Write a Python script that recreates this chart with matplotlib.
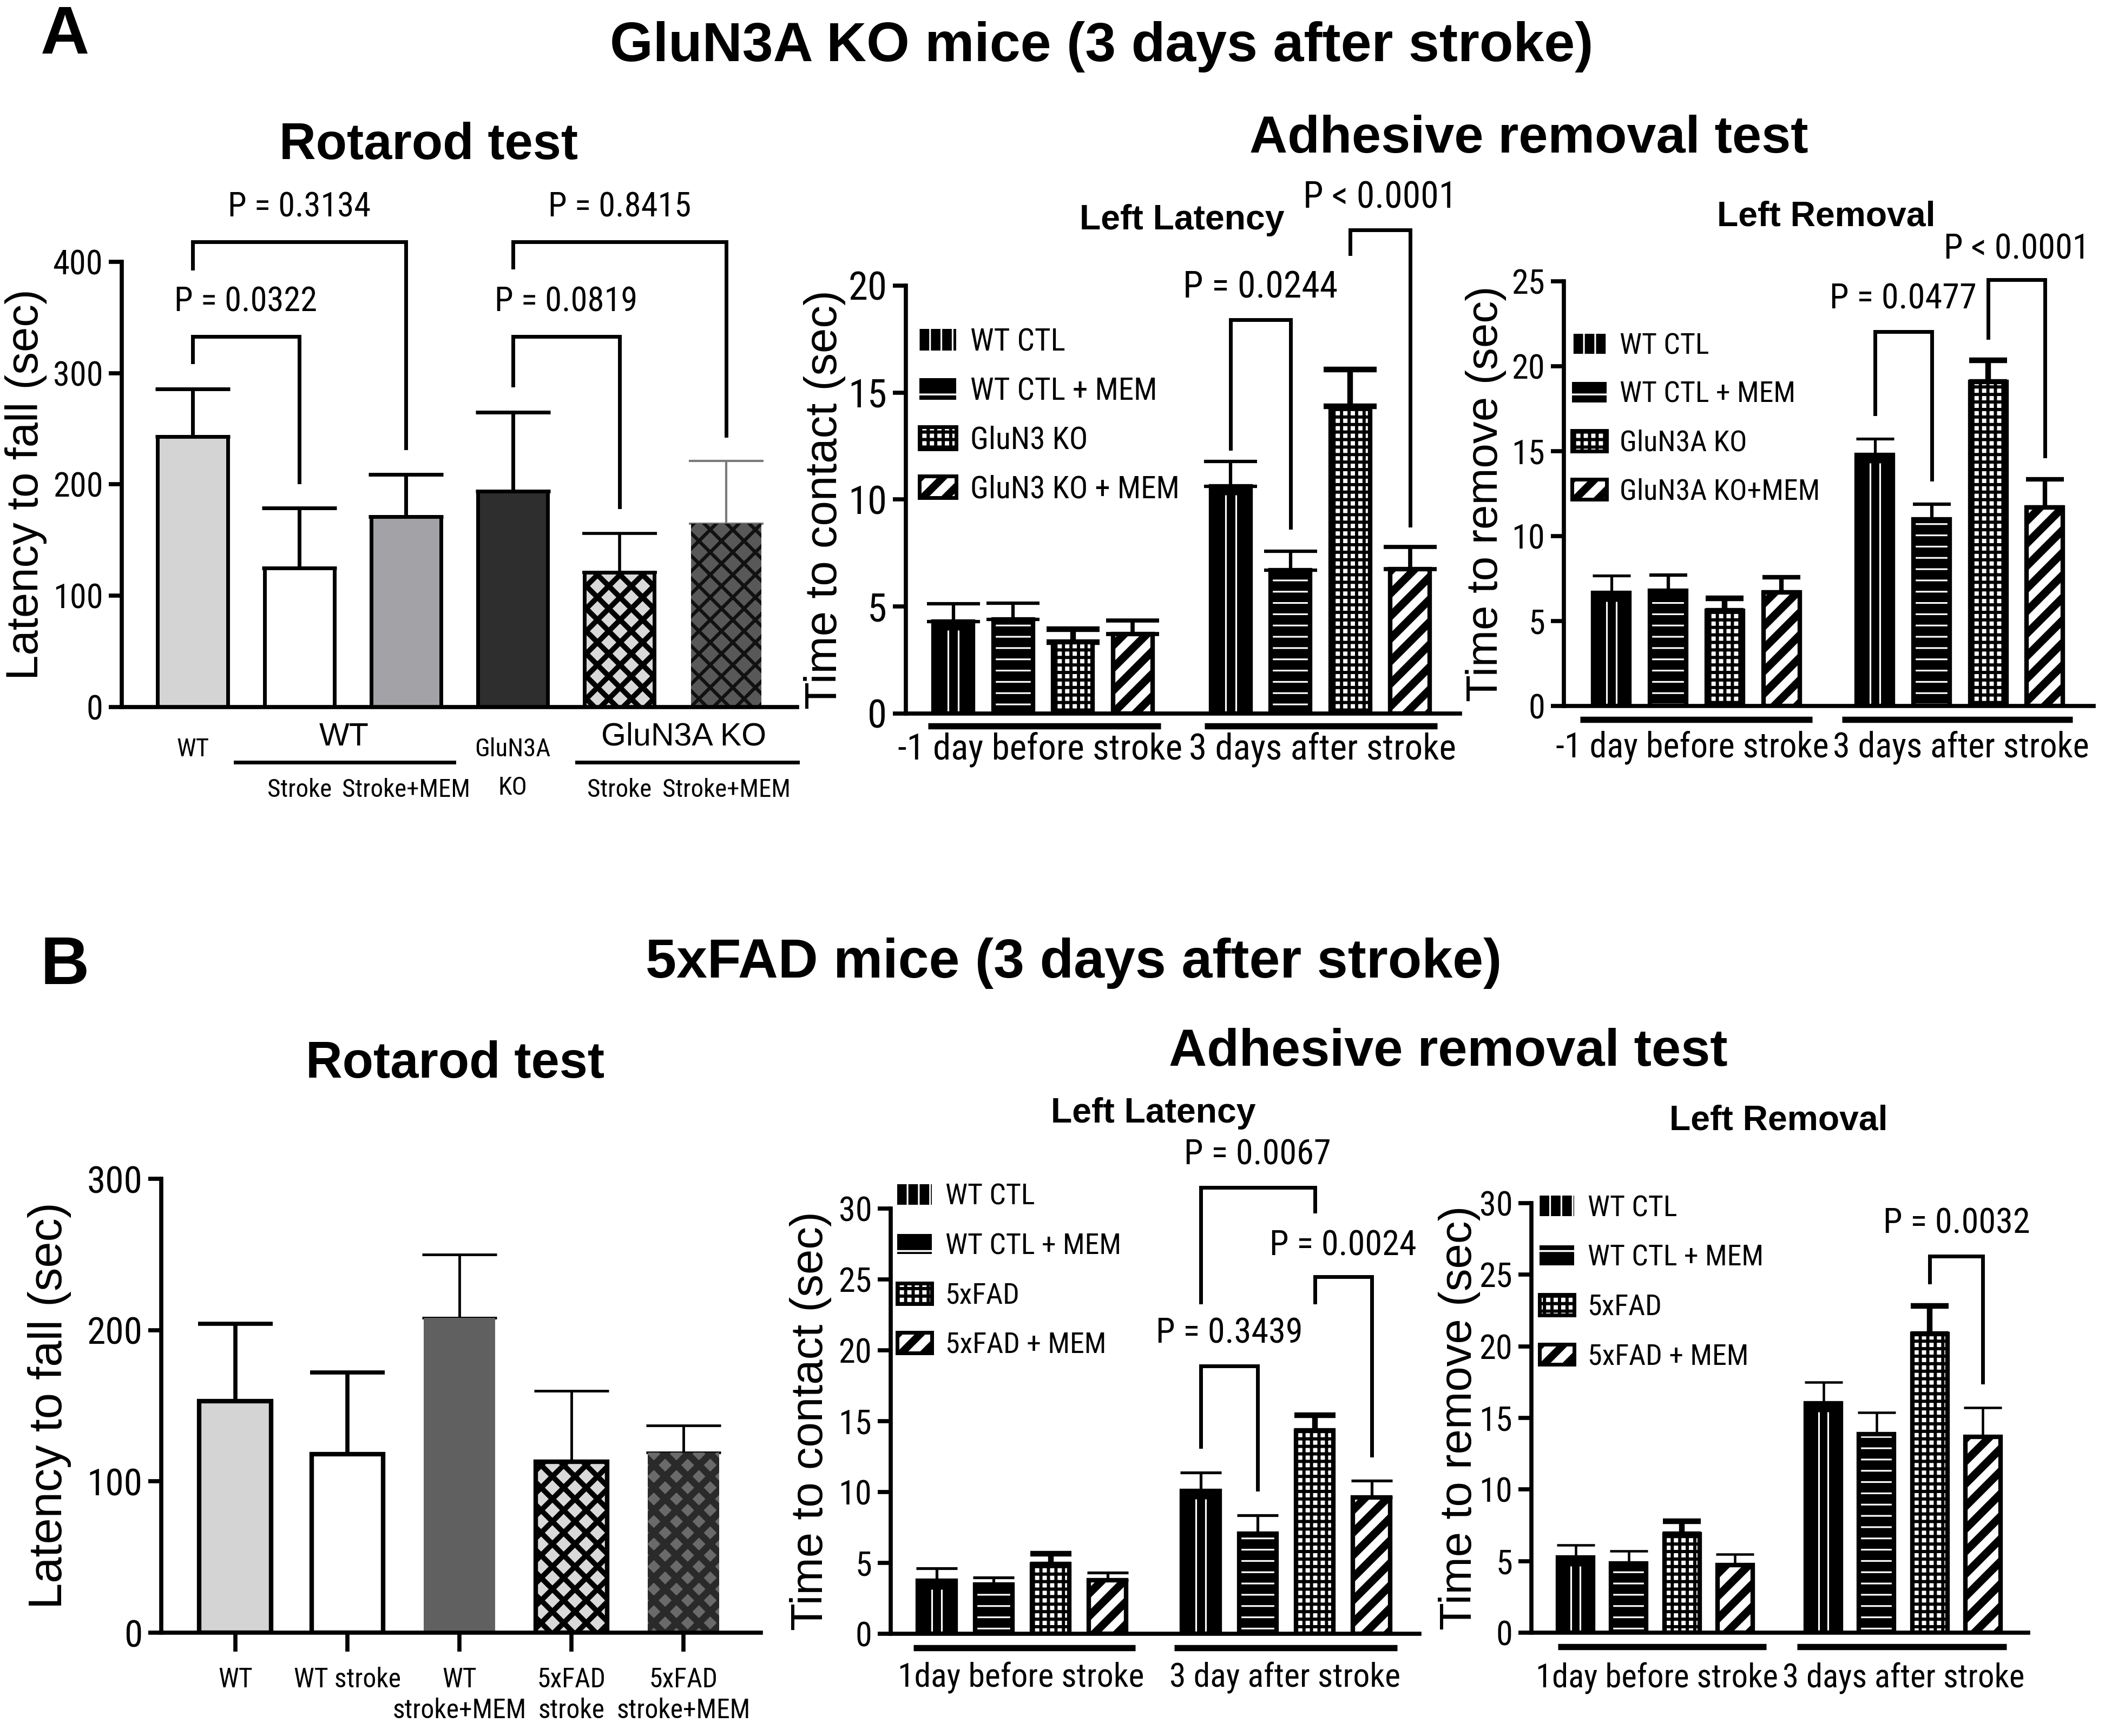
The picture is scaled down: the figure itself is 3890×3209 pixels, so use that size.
import matplotlib
matplotlib.use('Agg')
import matplotlib.pyplot as plt
import numpy as np
from matplotlib.patches import Patch
from matplotlib import font_manager as fm

# narrow font for numbers / small labels (Arial Narrow look); fall back to Liberation Sans
_names = sorted({f.name for f in fm.fontManager.ttflist})
_pref = ['Liberation Sans Narrow', 'Arial Narrow', 'Roboto Condensed', 'Noto Sans Condensed',
         'Open Sans Condensed', 'DejaVu Sans Condensed']
_narrow = next((n for n in _pref if n in _names), None)
if _narrow is None:
    _narrow = next((n for n in _names if ('Narrow' in n or 'Condensed' in n) and 'Sans' in n
                    and 'Mono' not in n and 'Semi' not in n and 'Extra' not in n), None)
if _narrow:
    NARROW = [_narrow, 'DejaVu Sans']
    NS = 1.0
else:
    NARROW = ['Liberation Sans', 'DejaVu Sans']
    NS = 0.86
WIDE = ['Liberation Sans', 'DejaVu Sans']
plt.rcParams['font.family'] = NARROW
plt.rcParams['axes.linewidth'] = 2.2

# ---------------- data ----------------
# A - GluN3A KO, rotarod
rotA_mean = [243, 125, 171, 194, 121, 165]
rotA_err = [43, 54, 38, 71, 35, 56]
# A - adhesive removal, left latency (-1 day, then 3 days)
latA_mean = [4.29, 4.39, 3.33, 3.71, 10.62, 6.69, 14.35, 6.75]
latA_err = [0.84, 0.77, 0.62, 0.64, 1.16, 0.89, 1.72, 1.03]
# A - adhesive removal, left removal
remA_mean = [6.65, 6.77, 5.60, 6.70, 14.79, 10.99, 19.08, 11.70]
remA_err = [1.03, 0.93, 0.74, 0.88, 0.93, 0.88, 1.27, 1.63]
# B - 5xFAD, rotarod
rotB_labels = ['WT', 'WT stroke', 'WT\nstroke+MEM', '5xFAD\nstroke', '5xFAD\nstroke+MEM']
rotB_mean = [153, 118, 208, 113, 119]
rotB_err = [51, 54, 42, 47, 18]
# B - left latency
latB_mean = [3.73, 3.47, 4.87, 3.77, 10.09, 7.07, 14.31, 9.61]
latB_err = [0.88, 0.48, 0.79, 0.55, 1.28, 1.27, 1.12, 1.19]
# B - left removal
remB_mean = [5.24, 4.83, 6.87, 4.72, 16.03, 13.86, 20.86, 13.69]
remB_err = [0.87, 0.87, 0.93, 0.76, 1.45, 1.52, 1.95, 2.01]

legA_lat = ['WT CTL', 'WT CTL + MEM', 'GluN3 KO', 'GluN3 KO + MEM']
legA_rem = ['WT CTL', 'WT CTL + MEM', 'GluN3A KO', 'GluN3A KO+MEM']
legB = ['WT CTL', 'WT CTL + MEM', '5xFAD', '5xFAD + MEM']
daysA = ['-1 day before stroke', '3 days after stroke']
daysB_lat = ['1day before stroke', '3 day after stroke']
daysB_rem = ['1day before stroke', '3 days after stroke']

# brackets: (bar i, bar j, top, left end, right end, text, text y)
brA_rot = [(0, 2, 418, 394, 233, 'P = 0.3134', 449),
           (0, 1, 333, 310, 202, 'P = 0.0322', 364),
           (3, 5, 418, 395, 244, 'P = 0.8415', 449),
           (3, 4, 333, 289, 180, 'P = 0.0819', 364)]
brA_lat = [(4, 5, 18.4, 12.4, 8.7, 'P = 0.0244', 19.9),
           (6, 7, 22.6, 21.5, 8.8, 'P < 0.0001', 24.1)]
brA_rem = [(4, 5, 22.05, 17.2, 13.35, 'P = 0.0477', 23.95),
           (6, 7, 25.1, 21.7, 14.7, 'P < 0.0001', 26.9)]
brB_lat = [(4, 6, 31.5, 23.4, 29.8, 'P = 0.0067', 33.8),
           (6, 7, 25.2, 23.4, 12.6, 'P = 0.0024', 27.4),
           (4, 5, 18.9, 13.2, 10.2, 'P = 0.3439', 21.2)]
brB_rem = [(6, 7, 26.3, 24.5, 17.5, 'P = 0.0032', 28.6)]

# ---------------- styles ----------------
STY = {
    'lgray': dict(face='#d4d4d4', edge='black'),
    'white': dict(face='white', edge='black'),
    'gray': dict(face='#a2a2a7', edge='black'),
    'dark': dict(face='#2e2e2e', edge='black'),
    'midgray': dict(face='#606060', edge=None),
    'lattice': dict(face='#d9d9d9', hatch='xx', hc='black', hlw=2.8, edge='black'),
    'lat_dark': dict(face='#585858', hatch='xx', hc='#111111', hlw=1.8, edge=None),
    'lat_dark2': dict(face='#6a6a6a', hatch='xx', hc='#2a2a2a', hlw=3.6, edge=None),
    'vert': dict(face='black', edge='black', vlines=True),
    'horiz': dict(face='black', hatch='--', hc='white', hlw=0.9, edge='black'),
    'check': dict(face='white', hatch='+++', hc='black', hlw=1.7, edge='black'),
    'diag': dict(face='white', hatch='//', hc='black', hlw=4.2, edge='black'),
}
ADH = ['vert', 'horiz', 'check', 'diag'] * 2


def set_hlw(p, lw):
    if hasattr(p, 'set_hatch_linewidth'):
        p.set_hatch_linewidth(lw)


def draw_bars(ax, x, means, errs, styles, width, ymax, elw, ecol, cap, edge_lw=2.4):
    for xi, m, e, s, lw, ec in zip(x, means, errs, styles, elw, ecol):
        st = STY[s]
        h = st.get('hatch')
        with plt.rc_context({'hatch.linewidth': st.get('hlw', 1.0)}):
            bc = ax.bar(xi, m, width, color=st['face'],
                        edgecolor=st.get('hc', 'none') if h else 'none',
                        linewidth=0, hatch=h, zorder=2)
        for p in bc:
            set_hlw(p, st.get('hlw', 1.0))
        if st['edge']:
            ax.bar(xi, m, width, fill=False, edgecolor=st['edge'], linewidth=edge_lw, zorder=3)
        if st.get('vlines'):
            off = width * 0.13
            ax.vlines([xi - off, xi + off], 0, m - 0.02 * ymax, color='white', lw=0.9, zorder=2.5)
        ax.errorbar(xi, m, yerr=[[0], [e]], fmt='none', ecolor=ec, elinewidth=lw,
                    capsize=cap, capthick=lw, zorder=1)


def brackets(ax, x, items, fs, lw=2.0):
    for i, j, top, yl, yr, txt, ty in items:
        ax.plot([x[i], x[i], x[j], x[j]], [yl, top, top, yr], color='black',
                lw=lw, clip_on=False, solid_joinstyle='miter', zorder=4)
        ax.text((x[i] + x[j]) / 2, ty, txt, ha='center', va='center', fontsize=fs * NS,
                family=NARROW, clip_on=False)


def style_axes(ax, ymax, step, ytick_fs, ylabel, ylab_x, ylab_fs=24):
    ax.set_ylim(0, ymax)
    ax.set_yticks(np.arange(0, ymax + step / 2, step))
    ax.spines['top'].set_visible(False)
    ax.spines['right'].set_visible(False)
    ax.tick_params(axis='y', length=7, width=2.2, labelsize=ytick_fs * NS, pad=3)
    ax.tick_params(axis='x', length=0)
    ax.set_xticks([])
    ax.set_ylabel(ylabel, fontsize=ylab_fs, family=WIDE, va='center')
    ax.yaxis.set_label_coords(ylab_x, 0.5)


def group_lines(ax, spans, labels, centers, y_line, y_txt, fs, lw=3.3):
    tr = ax.get_xaxis_transform()
    for (a, b), lab, c in zip(spans, labels, centers):
        ax.plot([a, b], [y_line, y_line], color='black', lw=lw, transform=tr,
                clip_on=False, solid_capstyle='butt')
        ax.text(c, y_txt, lab, transform=tr, ha='center', va='center', fontsize=fs * NS,
                family=NARROW)


def add_legend(ax, labels, anchor, fs=16, spacing=0.7):
    specs = [dict(facecolor='black', edgecolor='white', linewidth=0, hatch='||', hlw=0.9),
             dict(facecolor='black', edgecolor='white', linewidth=0, hatch='-', hlw=1.0),
             dict(facecolor='white', edgecolor='black', linewidth=2, hatch='+++', hlw=1.7),
             dict(facecolor='white', edgecolor='black', linewidth=2, hatch='//', hlw=4.0)]
    handles = []
    for sp in specs:
        sp = dict(sp)
        hlw = sp.pop('hlw')
        p = Patch(**sp)
        set_hlw(p, hlw)
        handles.append(p)
    leg = ax.legend(handles, labels, loc='upper left', bbox_to_anchor=anchor, frameon=False,
                    borderpad=0, borderaxespad=0, handlelength=1.2,
                    handleheight=0.7, handletextpad=0.45, labelspacing=spacing,
                    prop={'family': NARROW, 'size': fs * NS})
    for h, sp in zip(leg.legend_handles, specs):
        set_hlw(h, sp['hlw'])
    return leg


fig = plt.figure(figsize=(15.56, 12.836), dpi=250)

# ---------------- panel A ----------------
fig.text(0.0308, 0.979, 'A', fontsize=36, weight='bold', family=WIDE, ha='center', va='center')
fig.text(0.5234, 0.973, 'GluN3A KO mice (3 days after stroke)', fontsize=29.5, weight='bold',
         family=WIDE, ha='center', va='center')
fig.text(0.2036, 0.916, 'Rotarod test', fontsize=27, weight='bold', family=WIDE,
         ha='center', va='center')
fig.text(0.7262, 0.920, 'Adhesive removal test', fontsize=28, weight='bold', family=WIDE,
         ha='center', va='center')
fig.text(0.5614, 0.8732, 'Left Latency', fontsize=18.5, weight='bold', family=WIDE,
         ha='center', va='center')
fig.text(0.8676, 0.8753, 'Left Removal', fontsize=18.5, weight='bold', family=WIDE,
         ha='center', va='center')

# A rotarod
ax = fig.add_axes([0.05784, 0.59271, 0.32082, 0.25647])
xr = np.arange(len(rotA_mean))
draw_bars(ax, xr, rotA_mean, rotA_err,
          ['lgray', 'white', 'gray', 'dark', 'lattice', 'lat_dark'], 0.655, 400,
          [2.0, 2.0, 2.0, 2.0, 1.6, 1.2], ['black'] * 5 + ['#7a7a7a'], 20, edge_lw=2.0)
ax.set_xlim(-0.664, 5.664)
style_axes(ax, 400, 100, 18, 'Latency to fall (sec)', -0.142)
brackets(ax, xr, brA_rot, 18)
tr = ax.get_xaxis_transform()
for c, lab in [(0, 'WT'), (3, 'GluN3A')]:
    ax.text(c, -0.095, lab, transform=tr, ha='center', va='center', fontsize=13.5 * NS)
ax.text(3, -0.181, 'KO', transform=tr, ha='center', va='center', fontsize=13.5 * NS)
for c, lab in [(1, 'Stroke'), (2, 'Stroke+MEM'), (4, 'Stroke'), (5, 'Stroke+MEM')]:
    ax.text(c, -0.186, lab, transform=tr, ha='center', va='center', fontsize=13.5 * NS)
for (a, b), c, lab in [((0.4, 2.45), 1.42, 'WT'), ((3.6, 5.67), 4.6, 'GluN3A KO')]:
    ax.plot([a, b], [-0.124, -0.124], color='black', lw=2.0, transform=tr, clip_on=False)
    ax.text(c, -0.067, lab, transform=tr, ha='center', va='center', fontsize=17, family=WIDE)

# A latency
ax = fig.add_axes([0.43033, 0.58897, 0.26324, 0.24650])
xa = np.r_[np.arange(4), np.arange(4) + 4.635]
draw_bars(ax, xa, latA_mean, latA_err, ADH, 0.66, 20,
          [1.8, 1.8, 3.0, 2.2] * 2, ['black'] * 8, 14)
ax.set_xlim(-0.795, 8.47)
style_axes(ax, 20, 5, 21, 'Time to contact (sec)', -0.146)
brackets(ax, xa, brA_lat, 19.5)
group_lines(ax, [(-0.42, 3.47), (4.2, 8.09)], daysA, [1.45, 6.17], -0.029, -0.085, 19.3)
add_legend(ax, legA_lat, (0.024, 0.902), 16.5, 0.62)

# A removal
ax = fig.add_axes([0.74293, 0.59333, 0.25167, 0.24462])
xa = np.r_[np.arange(4), np.arange(4) + 4.65]
draw_bars(ax, xa, remA_mean, remA_err, ADH, 0.64, 25,
          [1.5, 1.8, 3.0, 2.4] * 2, ['black'] * 8, 10)
ax.set_xlim(-0.84, 8.51)
style_axes(ax, 25, 5, 18, 'Time to remove (sec)', -0.147, 23.5)
brackets(ax, xa, brA_rem, 18.5)
group_lines(ax, [(-0.55, 3.54), (4.07, 8.14)], daysA, [1.43, 6.17], -0.032, -0.098, 18.5)
add_legend(ax, legA_rem, (0.015, 0.88), 15.5, 0.72)

# ---------------- panel B ----------------
fig.text(0.0308, 0.4431, 'B', fontsize=36, weight='bold', family=WIDE, ha='center', va='center')
fig.text(0.5100, 0.4453, '5xFAD mice (3 days after stroke)', fontsize=29.5, weight='bold',
         family=WIDE, ha='center', va='center')
fig.text(0.2162, 0.3870, 'Rotarod test', fontsize=27, weight='bold', family=WIDE,
         ha='center', va='center')
fig.text(0.6879, 0.3939, 'Adhesive removal test', fontsize=28, weight='bold', family=WIDE,
         ha='center', va='center')
fig.text(0.5478, 0.3587, 'Left Latency', fontsize=18.5, weight='bold', family=WIDE,
         ha='center', va='center')
fig.text(0.8450, 0.3546, 'Left Removal', fontsize=18.5, weight='bold', family=WIDE,
         ha='center', va='center')

# B rotarod
ax = fig.add_axes([0.07661, 0.05952, 0.28483, 0.26145])
xb = np.arange(len(rotB_mean))
draw_bars(ax, xb, rotB_mean, rotB_err,
          ['lgray', 'white', 'midgray', 'lattice', 'lat_dark2'], 0.64, 300,
          [2.2, 2.2, 1.4, 1.4, 1.4], ['black'] * 5, 20)
ax.set_xlim(-0.66, 4.69)
style_axes(ax, 300, 100, 20, 'Latency to fall (sec)', -0.186, 25)
ax.set_xticks(xb)
ax.set_xticklabels(rotB_labels, fontsize=14.3 * NS, linespacing=1.25)
ax.tick_params(axis='x', length=10, width=2.2, pad=8)

# B latency
ax = fig.add_axes([0.42314, 0.05890, 0.25116, 0.24494])
xa = np.r_[np.arange(4), np.arange(4) + 4.64]
draw_bars(ax, xa, latB_mean, latB_err, ADH, 0.66, 30,
          [1.5, 1.5, 3.0, 1.5] * 2, ['black'] * 8, 11)
ax.set_xlim(-0.81, 8.48)
style_axes(ax, 30, 5, 18, 'Time to contact (sec)', -0.151)
brackets(ax, xa, brB_lat, 18.5)
group_lines(ax, [(-0.41, 3.49), (4.17, 8.09)], daysB_lat, [1.48, 6.12], -0.033, -0.104, 17.8)
add_legend(ax, legB, (0.012, 1.06), 15.5, 0.75)

# B removal
ax = fig.add_axes([0.72751, 0.05952, 0.23599, 0.24743])
xa = np.r_[np.arange(4), np.arange(4) + 4.66]
draw_bars(ax, xa, remB_mean, remB_err, ADH, 0.66, 30,
          [1.3, 1.3, 3.0, 1.3] * 2, ['black'] * 8, 10)
ax.set_xlim(-0.83, 8.51)
style_axes(ax, 30, 5, 18, 'Time to remove (sec)', -0.145)
brackets(ax, xa, brB_rem, 18.5)
group_lines(ax, [(-0.33, 3.59), (4.17, 8.1)], daysB_rem, [1.53, 6.17], -0.033, -0.106, 17.5)
add_legend(ax, legB, (0.016, 1.02), 15.5, 0.75)

fig.savefig('out.png', dpi=250)
